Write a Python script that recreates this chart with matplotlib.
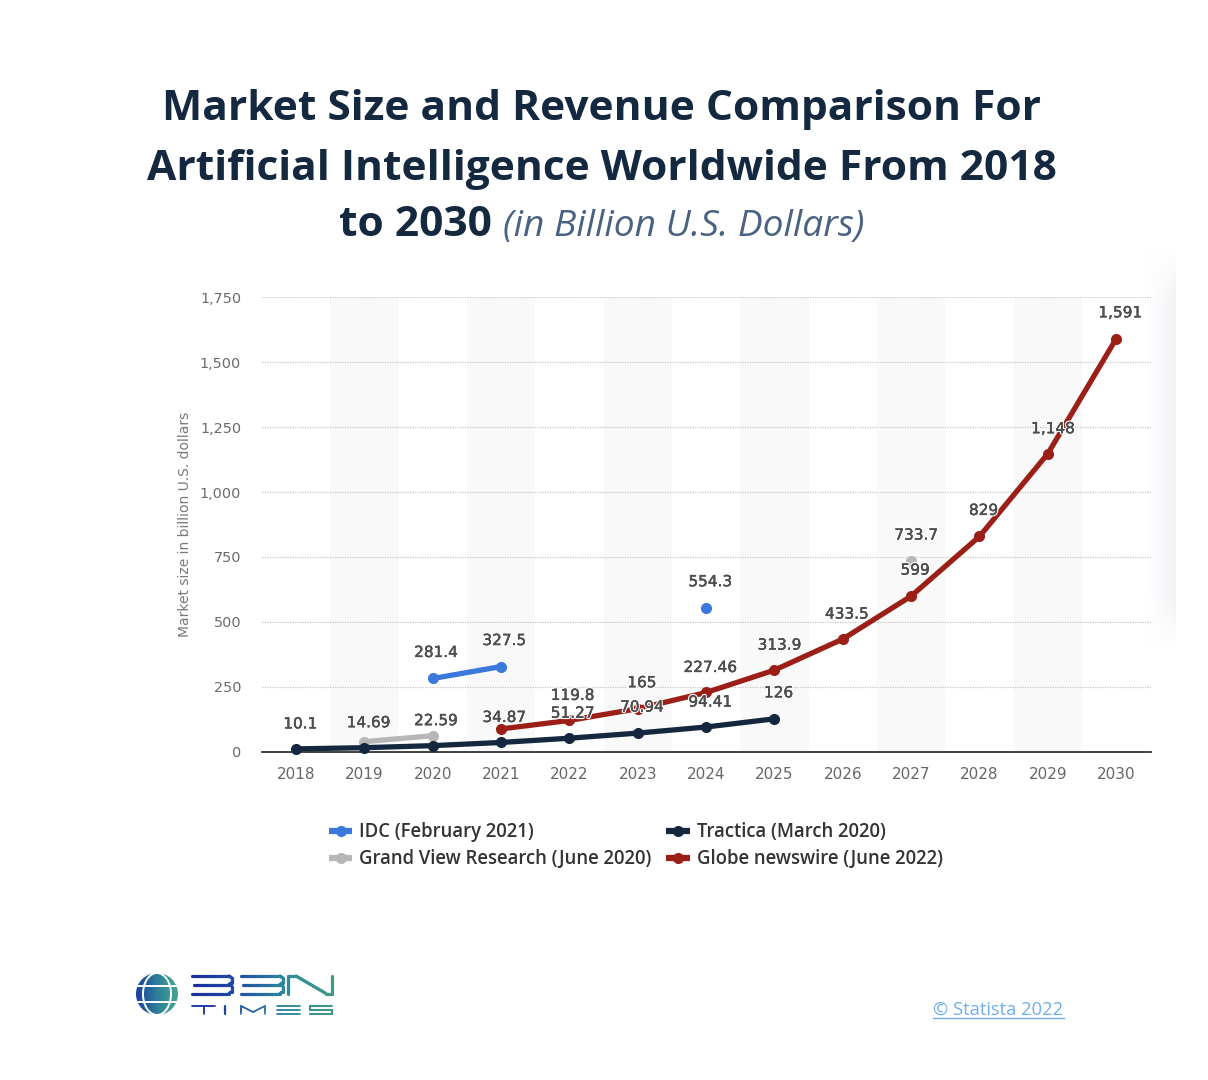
import matplotlib
matplotlib.use("Agg")
import matplotlib.pyplot as plt
import matplotlib.patheffects as pe
import numpy as np
from matplotlib.patches import Circle, Ellipse
from matplotlib.collections import LineCollection
from matplotlib.colors import LinearSegmentedColormap

years = list(range(2018, 2031))
idc_x = [2020, 2021]
idc_y = [281.4, 327.5]
idc_single_x = [2024]
idc_single_y = [554.3]
gv_x = [2019, 2020]
gv_y = [38, 61]
gv_single_x = [2027]
gv_single_y = [733.7]
tr_x = [2018, 2019, 2020, 2021, 2022, 2023, 2024, 2025]
tr_y = [10.1, 14.69, 22.59, 34.87, 51.27, 70.94, 94.41, 126]
gl_x = [2021, 2022, 2023, 2024, 2025, 2026, 2027, 2028, 2029, 2030]
gl_y = [87, 119.8, 165, 227.46, 313.9, 433.5, 599, 829, 1148, 1591]
y_ticks = [0, 250, 500, 750, 1000, 1250, 1500, 1750]
band_years = [2019, 2021, 2023, 2025, 2027, 2029]

BLUE, GREY, NAVY, RED = "#3b78dc", "#b7b7b7", "#15273f", "#9c1f17"
W, H = 1208, 1080
fig = plt.figure(figsize=(W / 100, H / 100), dpi=100, facecolor="white")

bg = fig.add_axes([0, 0, 1, 1])
bg.axis("off")

TITLE_COL = "#14283f"
title_kw = dict(family="Open Sans", fontweight="bold", fontsize=30.6, color=TITLE_COL, va="center")
bg.text(602, 110, "Market Size and Revenue Comparison For", ha="center", **title_kw)
bg.text(602, 169, "Artificial Intelligence Worldwide From 2018", ha="center", **title_kw)
bg.text(339, 226, "to 2030", ha="left", **title_kw)
bg.text(503, 227, "(in Billion U.S. Dollars)", ha="left", va="center", family="Open Sans",
        style="italic", fontsize=26.7, color="#4a6282")

# faint shadow on the right edge
xg = np.linspace(0, 1, 40) ** 1.6
yg = np.clip(np.minimum(np.linspace(0, 8, 200), np.linspace(8, 0, 200)), 0, 1)
rgba = np.zeros((200, 40, 4))
rgba[..., :3] = np.array([0.945, 0.95, 0.965])
rgba[..., 3] = np.outer(yg, xg)
bg.imshow(rgba, extent=(1140, 1176, 650, 250), aspect="auto", zorder=0)

# credit
bg.text(933, 1010, "© Statista 2022", ha="left", va="center", family="Open Sans", fontsize=13.2, color="#6fb0ec")
bg.plot([933, 1064], [1018, 1018], color="#6fb0ec", lw=1)

# logo
logo_cm = LinearSegmentedColormap.from_list("g", ["#1a2f9c", "#1f4ea6", "#2c8a9a", "#3f9a86"])
def stroke(pts, lw=2.3):
    pts = np.array(pts, float)
    segs, cols = [], []
    for a, b in zip(pts[:-1], pts[1:]):
        n = max(2, int(np.hypot(*(b - a)) // 3) + 2)
        xs = np.linspace(a[0], b[0], n)
        ys = np.linspace(a[1], b[1], n)
        for i in range(n - 1):
            segs.append([(xs[i], ys[i]), (xs[i + 1], ys[i + 1])])
            cols.append(logo_cm(np.clip((xs[i] - 192) / 140, 0, 1)))
    bg.add_collection(LineCollection(segs, colors=cols, linewidths=lw, capstyle="round", zorder=3))

for x0, x1 in ((192, 232), (241, 283)):
    stroke([(x0, 976), (x1 - 3, 976), (x1, 978), (x1, 982.5), (x1 - 3, 984.5), (x0 + 2, 984.5)])
    stroke([(x1 - 3, 984.5), (x1, 986.5), (x1, 991.5), (x1 - 3, 993.5), (x0, 993.5)])
stroke([(288, 993.5), (288, 976), (296, 976), (326, 993.5), (332, 993.5), (332, 976)])
# T I M E S
stroke([(192, 1006), (215, 1006)], 1.3); stroke([(204, 1006), (204, 1014)], 1.3)
stroke([(225, 1006), (225, 1014)], 1.6)
stroke([(241, 1014), (241, 1006), (253, 1012), (265, 1006), (265, 1014)], 1.2)
for yy in (1006, 1010, 1014):
    stroke([(277, yy), (300, yy)], 1.3)
stroke([(332, 1006), (310, 1006), (310, 1010), (332, 1010), (332, 1014), (310, 1014)], 1.5)

cx, cy, r = 157, 994, 21
grad = np.linspace(0, 1, 64).reshape(1, -1)
cm1 = LinearSegmentedColormap.from_list("g", ["#1c3f9e", "#2c7f9a", "#45a68e"])
im = bg.imshow(grad, extent=(cx - r, cx + r, cy + r, cy - r), aspect="auto", cmap=cm1, zorder=2)
im.set_clip_path(Circle((cx, cy), r, transform=bg.transData))
bg.add_patch(Ellipse((cx, cy), 28, 42, fc="none", ec="white", lw=1.4, zorder=3))
for dy in (-8, 8):
    bg.plot([cx - r, cx + r], [cy + dy, cy + dy], color="white", lw=1.4, zorder=3)
bg.set_xlim(0, W)
bg.set_ylim(H, 0)

# chart
ax = fig.add_axes([262 / W, 1 - 751.5 / H, (1151 - 262) / W, (751.5 - 297.5) / H])
ax.patch.set_alpha(0)
ax.set_xlim(2017.5, 2030.51)
ax.set_ylim(0, 1750)
for b in band_years:
    ax.axvspan(b - 0.5, b + 0.5, color="#f9f9fa", lw=0, zorder=0)
ax.set_yticks(y_ticks)
ax.set_yticklabels([f"{v:,}" for v in y_ticks], fontsize=10.4, color="#6b6b6b")
ax.set_xticks(years)
ax.set_xticklabels(years, fontsize=11, color="#666666")
ax.tick_params(length=0)
ax.tick_params(axis="x", pad=11.5)
ax.tick_params(axis="y", pad=15)
ax.grid(axis="y", color="#c6c6c6", lw=0.9, ls=(0, (1, 1)), zorder=1)
for s in ("top", "left", "right"):
    ax.spines[s].set_visible(False)
ax.spines["bottom"].set_color("#333333")
ax.spines["bottom"].set_linewidth(1.3)
ax.set_axisbelow(True)
ax.set_ylabel("Market size in billion U.S. dollars", fontsize=10, color="#7a7a7a")
ax.yaxis.set_label_coords(-70 / (1151 - 262), 0.5)

kw = dict(lw=3.8, marker="o", ms=8, mew=0, clip_on=False, solid_capstyle="round")
l_gv, = ax.plot(gv_x, gv_y, color=GREY, zorder=3, label="Grand View Research (June 2020)", **kw)
ax.plot(gv_single_x, gv_single_y, color=GREY, zorder=3, **kw)
l_idc, = ax.plot(idc_x, idc_y, color=BLUE, zorder=4, label="IDC (February 2021)", **kw)
ax.plot(idc_single_x, idc_single_y, color=BLUE, zorder=4, **kw)
l_gl, = ax.plot(gl_x, gl_y, color=RED, zorder=5, label="Globe newswire (June 2022)", **kw)
l_tr, = ax.plot(tr_x, tr_y, color=NAVY, zorder=6, label="Tractica (March 2020)", **kw)

def lab(xs, ys, texts, offs):
    for x, y, t, o in zip(xs, ys, texts, offs):
        ax.annotate(t, (x, y), xytext=(o[0] * 0.72, (o[1] - 1) * 0.72), textcoords="offset points",
                    ha="center", va="center", fontsize=11, color="#4f4f4f", zorder=8,
                    annotation_clip=False,
                    path_effects=[pe.withStroke(linewidth=2.0, foreground="white"),
                                  pe.Stroke(linewidth=0.25, foreground="#4f4f4f"), pe.Normal()])

lab(tr_x, tr_y,
    ["10.1", "14.69", "22.59", "34.87", "51.27", "70.94", "94.41", "126"],
    [(4, 26), (4, 26), (3, 26), (3, 26), (3, 26), (4, 27), (4, 26), (4, 27)])
lab(gl_x, gl_y,
    ["", "119.8", "165", "227.46", "313.9", "433.5", "599", "829", "1,148", "1,591"],
    [(0, 0), (3, 26), (4, 27), (4, 26), (5, 26), (4, 26), (4, 27), (4, 27), (5, 26), (4, 27)])
lab(idc_x, idc_y, ["281.4", "327.5"], [(3, 27), (3, 27)])
lab(idc_single_x, idc_single_y, ["554.3"], [(4, 27)])
lab(gv_single_x, gv_single_y, ["733.7"], [(5, 27)])

leg = fig.legend(handles=[l_idc, l_gv, l_tr, l_gl], ncol=2, frameon=False,
                 loc="upper left", bbox_to_anchor=(329 / W, 1 - 822 / H), bbox_transform=fig.transFigure,
                 borderaxespad=0, borderpad=0, columnspacing=0.8, handlelength=1.25, handletextpad=0.38,
                 labelspacing=0.39, prop=dict(family="Open Sans", weight="semibold", size=13.35),
                 labelcolor="#333333")
for h in leg.legend_handles:
    h.set_markersize(8)
    h.set_linewidth(4.5)
    h.set_solid_capstyle("butt")

fig.savefig("out.png", dpi=100, facecolor="white")
